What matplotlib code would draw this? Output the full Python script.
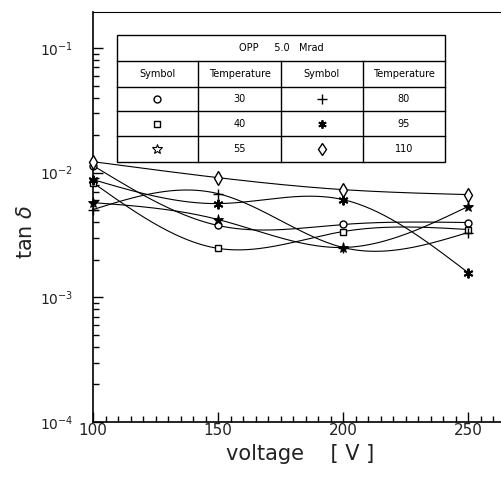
import numpy as np
import matplotlib
matplotlib.use("Agg")
import matplotlib.pyplot as plt
from matplotlib.ticker import MultipleLocator, LogLocator, FixedLocator, NullFormatter

# ---- data ----
voltage = [100, 150, 200, 250]
temps = [30, 40, 55, 80, 95, 110]
tan_30 = [0.0114, 0.00377, 0.00384, 0.00398]     # circle
tan_40 = [0.0083, 0.00247, 0.00337, 0.00350]     # square
tan_55 = [0.00575, 0.00421, 0.00251, 0.00535]    # star
tan_80 = [0.00506, 0.00679, 0.00251, 0.00331]    # plus
tan_95 = [0.00879, 0.00565, 0.00608, 0.00158]    # asterisk
tan_110 = [0.01225, 0.00912, 0.00731, 0.00667]   # diamond
xticks = [100, 150, 200, 250]
table_title = "OPP     5.0   Mrad"

series = [tan_30, tan_40, tan_55, tan_80, tan_95, tan_110]
mk = [dict(marker='o', ms=5, mfc='white', mec='black', mew=1.0),
      dict(marker='s', ms=5, mfc='white', mec='black', mew=1.0),
      dict(marker='*', ms=8, mfc='black', mec='black', mew=0.6),
      dict(marker='+', ms=7, mfc='black', mec='black', mew=1.0),
      dict(marker=(6, 2, 0), ms=7, mfc='black', mec='black', mew=1.4),
      dict(marker='d', ms=7, mfc='white', mec='black', mew=1.0)]


def natural_spline(x, y, xf):
    x = np.asarray(x, float)
    y = np.asarray(y, float)
    n = len(x)
    h = np.diff(x)
    A = np.zeros((n, n))
    rhs = np.zeros(n)
    A[0, 0] = 1
    A[-1, -1] = 1
    for i in range(1, n - 1):
        A[i, i - 1] = h[i - 1]
        A[i, i] = 2 * (h[i - 1] + h[i])
        A[i, i + 1] = h[i]
        rhs[i] = 6 * ((y[i + 1] - y[i]) / h[i] - (y[i] - y[i - 1]) / h[i - 1])
    M = np.linalg.solve(A, rhs)
    out = np.empty_like(xf)
    for j, xv in enumerate(xf):
        i = min(max(np.searchsorted(x, xv) - 1, 0), n - 2)
        t0 = x[i + 1] - xv
        t1 = xv - x[i]
        out[j] = (M[i] * t0 ** 3 + M[i + 1] * t1 ** 3) / (6 * h[i]) \
            + (y[i] / h[i] - M[i] * h[i] / 6) * t0 + (y[i + 1] / h[i] - M[i + 1] * h[i] / 6) * t1
    return out


W, H = 501, 479
fig = plt.figure(figsize=(W / 100, H / 100), dpi=100)
L, R, T, B = 93, 501, 12, 422
ax = fig.add_axes([L / W, (H - B) / H, (R - L) / W, (B - T) / H])
ax.set_yscale('log')
ax.set_xlim(100, 100 + (R - L) / 2.5)
ax.set_ylim(1e-4, 10 ** (-1 + (48 - 12) / 124.7))

xs = np.array(voltage, dtype=float)
xf = np.linspace(100, 250, 300)
for vals, m in zip(series, mk):
    yf = natural_spline(xs, np.log10(vals), xf)
    ax.plot(xf, 10 ** yf, color='black', lw=0.8, clip_on=False)
    ax.plot(xs, vals, ls='none', clip_on=False, zorder=5, **m)

ax.spines['right'].set_visible(False)
for s in ['left', 'bottom']:
    ax.spines[s].set_linewidth(1.2)
ax.spines['top'].set_linewidth(0.8)
ax.xaxis.set_major_locator(FixedLocator(xticks))
ax.xaxis.set_minor_locator(MultipleLocator(5))
ax.tick_params(axis='x', which='major', direction='in', length=7, width=1, labelsize=11, pad=1)
ax.tick_params(axis='x', which='minor', direction='in', length=4, width=1)
ax.tick_params(axis='y', which='major', direction='in', length=7, width=1, labelsize=10, pad=14)
ax.tick_params(axis='y', which='minor', direction='in', length=4, width=1)
ax.yaxis.set_minor_locator(LogLocator(base=10, subs=np.arange(2, 10)))
ax.yaxis.set_minor_formatter(NullFormatter())
ax.tick_params(top=False, right=False, which='both')
for lab in ax.get_xticklabels():
    lab.set_color('#222')
for lab in ax.get_yticklabels():
    lab.set_color('#222')

fig.text(300 / W, 1 - 454 / H, "voltage    [ V ]", ha='center', va='center', fontsize=15, color='#222')
fig.text(26 / W, 1 - 232 / H, r"tan $\delta$", ha='center', va='center', fontsize=15, rotation=90, color='#222')

# ---- table overlay (pixel coords) ----
ov = fig.add_axes([0, 0, 1, 1])
ov.set_xlim(0, W)
ov.set_ylim(H, 0)
ov.axis('off')
tx0, tx1 = 117, 445
ty = [35, 61, 87, 111, 136, 162]
cx = [117, 198, 281, 363, 445]
ov.add_patch(plt.Rectangle((tx0, ty[0]), tx1 - tx0, ty[-1] - ty[0], fill=True, fc='white', ec='black', lw=1.0, zorder=6))
for y in ty[1:-1]:
    ov.plot([tx0, tx1], [y, y], color='black', lw=1.0, zorder=7)
for x in cx[1:-1]:
    ov.plot([x, x], [ty[1], ty[-1]], color='black', lw=1.0, zorder=7)
fs = 7
ov.text((tx0 + tx1) / 2, (ty[0] + ty[1]) / 2, table_title, ha='center', va='center', fontsize=fs, zorder=8)
for i, h in enumerate(["Symbol", "Temperature", "Symbol", "Temperature"]):
    ov.text((cx[i] + cx[i + 1]) / 2, (ty[1] + ty[2]) / 2, h, ha='center', va='center', fontsize=fs, zorder=8)
tmk = [dict(marker='o', ms=5, mfc='white', mec='black', mew=1.0),
       dict(marker='s', ms=5, mfc='white', mec='black', mew=1.0),
       dict(marker='*', ms=7, mfc='white', mec='black', mew=0.8),
       dict(marker='+', ms=7, mfc='black', mec='black', mew=1.0),
       dict(marker=(6, 2, 0), ms=6, mfc='black', mec='black', mew=1.3),
       dict(marker='d', ms=6, mfc='white', mec='black', mew=1.0)]
for r in range(3):
    yc = (ty[r + 2] + ty[r + 3]) / 2
    for c, k in enumerate([r, r + 3]):
        ov.plot([(cx[2 * c] + cx[2 * c + 1]) / 2], [yc], ls='none', zorder=8, **tmk[k])
        ov.text((cx[2 * c + 1] + cx[2 * c + 2]) / 2, yc, str(temps[k]), ha='center', va='center', fontsize=fs, zorder=8)

fig.savefig("out.png", dpi=100)
